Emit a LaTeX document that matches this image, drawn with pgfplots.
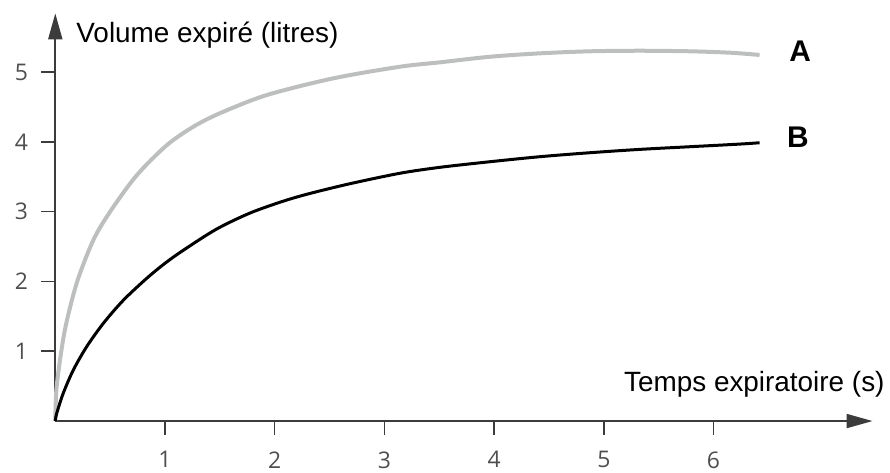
\documentclass[border=0pt]{standalone}
\usepackage{pgfplots}
\pgfplotsset{compat=1.18}
\usepackage{fontspec}
\setmainfont{Liberation Sans}
\newfontfamily\tickfont{Open Sans}
\usetikzlibrary{arrows.meta}
\definecolor{axisgray}{HTML}{3C3C3C}
\definecolor{curveA}{HTML}{BDBFBF}
\definecolor{ticklab}{HTML}{4E4E4E}
\begin{document}
\begin{tikzpicture}
\begin{axis}[
  x=54.85bp, y=34.9bp,
  xmin=0, xmax=7.45, ymin=0, ymax=5.84,
  axis lines=left,
  axis line style={axisgray, line width=1bp, -{Triangle[length=13bp,width=7bp]}},
  xtick={1,2,3,4,5,6}, ytick={1,2,3,4,5},
  tick align=outside,
  major tick length=7bp,
  tick style={axisgray, line width=0.8bp},
  /pgf/number format/assume math mode=true,
  xticklabel style={font=\tickfont\fontsize{11.5}{13}\selectfont, text=ticklab, inner sep=0pt, anchor=north, yshift=-8bp},
  yticklabel style={font=\tickfont\fontsize{11.5}{13}\selectfont, text=ticklab, inner sep=0pt, anchor=east, xshift=-6.5bp},
  clip=false,
]
\addplot[curveA, line width=2bp, smooth] coordinates {
 (0,0) (0.01,0.45) (0.05,0.95) (0.1,1.4) (0.2,2.0)
 (0.346,2.59) (0.5,3.0) (0.742,3.52) (1.015,3.95) (1.258,4.216) (1.501,4.41)
 (1.927,4.67) (2.535,4.91) (3.142,5.076) (3.507,5.139) (3.962,5.219) (4.418,5.268)
 (4.874,5.297) (5.33,5.305) (5.786,5.297) (6.15,5.277) (6.42,5.245)
};
\addplot[black, line width=1.5bp, smooth] coordinates {
 (0,0) (0.013,0.11) (0.073,0.40) (0.164,0.73) (0.286,1.065) (0.438,1.40)
 (0.62,1.73) (0.83,2.04) (1.0,2.26) (1.17,2.45) (1.47,2.75) (1.775,2.98)
 (2.078,3.15) (2.32,3.26) (2.686,3.40) (3.142,3.55) (3.507,3.635) (3.962,3.715)
 (4.418,3.787) (4.874,3.844) (5.33,3.892) (5.786,3.93) (6.242,3.968) (6.42,3.987)
};
\node[anchor=base west, inner sep=0pt, font=\fontsize{14}{16}\selectfont] at (axis cs:0.189,5.43) {Volume expiré (litres)};
\node[anchor=base east, inner sep=0pt, font=\fontsize{14}{16}\selectfont] at (axis cs:7.563,0.42) {Temps expiratoire (s)};
\node[inner sep=0pt, font=\bfseries\fontsize{15}{17}\selectfont] at (axis cs:6.79,5.30) {A};
\node[inner sep=0pt, font=\bfseries\fontsize{15}{17}\selectfont] at (axis cs:6.77,4.07) {B};
\coordinate (bl) at (axis cs:-0.504,-0.731);
\coordinate (tr) at (axis cs:7.609,6.032);
\end{axis}
\pgfresetboundingbox
\path[use as bounding box] (bl) rectangle (tr);
\end{tikzpicture}
\end{document}
